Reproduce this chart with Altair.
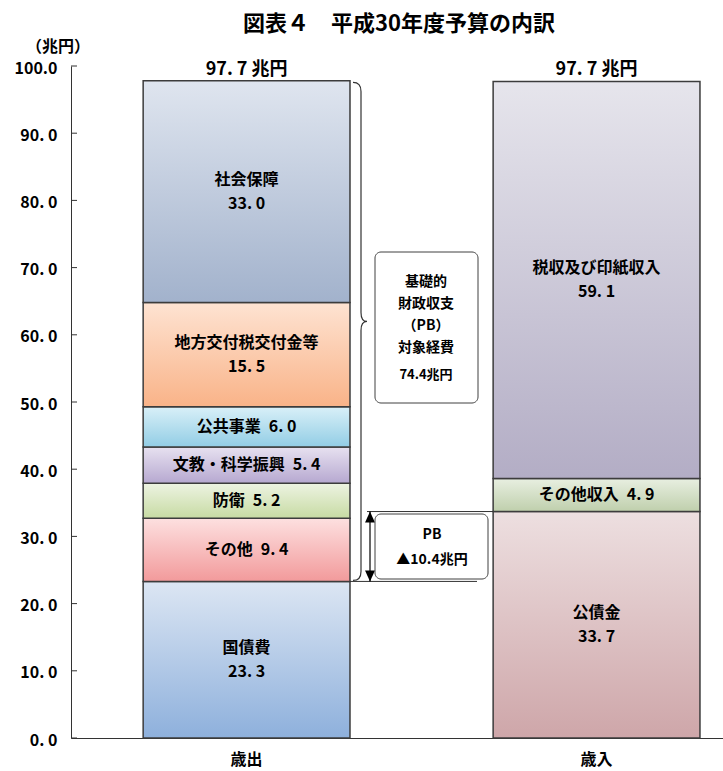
import altair as alt
import pandas as pd

# ---------------- data ----------------
categories = ["歳出", "歳入"]
exp_names = ["国債費", "その他", "防衛", "文教・科学振興", "公共事業", "地方交付税交付金等", "社会保障"]
exp_values = [23.3, 9.4, 5.2, 5.4, 6.0, 15.5, 33.0]
rev_names = ["公債金", "その他収入", "税収及び印紙収入"]
rev_values = [33.7, 4.9, 59.1]
totals = [97.7, 97.7]
y_ticks = [0, 10, 20, 30, 40, 50, 60, 70, 80, 90, 100]
pb_target = 74.4
pb_balance = -10.4

# ---------------- styles ----------------
FONT = "Noto Sans CJK JP"
colors = {
    "国債費": ("#dce6f3", "#8eb0dc"),
    "その他": ("#fde0e0", "#f29a9b"),
    "防衛": ("#edf3e2", "#c7dba3"),
    "文教・科学振興": ("#e7e1f0", "#b6a8d0"),
    "公共事業": ("#d9f0f8", "#92cde5"),
    "地方交付税交付金等": ("#fee3d2", "#f9b388"),
    "社会保障": ("#dfe5ef", "#a2b2cc"),
    "公債金": ("#eddfe0", "#cea6a9"),
    "その他収入": ("#e8efe1", "#bfcfac"),
    "税収及び印紙収入": ("#e6e5ec", "#b3adc5"),
}


def fmt(v):
    return f"{v:.1f}".replace(".", ". ")


rows = []
for cat, names, vals in [(categories[0], exp_names, exp_values), (categories[1], rev_names, rev_values)]:
    s = 0.0
    for n, v in zip(names, vals):
        two = v >= 10
        label = f"{n}\n{fmt(v)}" if two else f"{n}\u2002{fmt(v)}"
        rows.append(dict(category=cat, name=n, value=v, start=round(s, 2), end=round(s + v, 2),
                         mid=s + v / 2, label=label, two=two))
        s += v
df = pd.DataFrame(rows)

tot_df = pd.DataFrame({"category": categories, "total": totals,
                       "tlabel": [f"{fmt(t)} 兆円" for t in totals]})
tick_df = pd.DataFrame({"v": y_ticks})
one = pd.DataFrame({"a": [0]})

x_scale = alt.Scale(domain=categories, paddingInner=0.409, paddingOuter=0.136, align=0.758)
y_scale = alt.Scale(domain=[0, 100], nice=False, zero=True)

x_enc = alt.X("category:N", scale=x_scale, sort=categories,
              axis=alt.Axis(title=None, ticks=False, tickSize=0, labelAngle=0, labelPadding=13,
                            labelFontSize=16, labelFontWeight="bold", labelFont=FONT,
                            labelColor="black", domainColor="#333333", labelBaseline="top"))
y_axis = alt.Axis(values=y_ticks, title=None, ticks=False, tickSize=0, grid=False,
                  labelExpr="datum.value == 100 ? '100.0' : replace(format(datum.value, '.1f'), '.', '. ')",
                  labelPadding=14, labelFontSize=16, labelFontWeight="bold", labelFont=FONT,
                  labelColor="black", domainColor="#333333", labelOffset=2)

base = alt.Chart(df)
layers = []
for n in exp_names + rev_names:
    top, bot = colors[n]
    grad = {"gradient": "linear", "x1": 0, "y1": 0, "x2": 0, "y2": 1,
            "stops": [{"offset": 0, "color": top}, {"offset": 1, "color": bot}]}
    layers.append(
        base.transform_filter(alt.datum.name == n)
        .mark_bar(fill=grad, stroke="#3c3c3c", strokeWidth=1.5)
        .encode(x=x_enc, y=alt.Y("start:Q", scale=y_scale, axis=y_axis), y2="end:Q")
    )

seg_text2 = base.transform_filter(alt.datum.two).mark_text(
    font=FONT, fontSize=16, fontWeight="bold", lineBreak="\n", lineHeight=24,
    baseline="middle", dy=-12, color="black").encode(
    x=x_enc, y=alt.Y("mid:Q", scale=y_scale), text="label:N")
seg_text1 = base.transform_filter("!datum.two").mark_text(
    font=FONT, fontSize=16, fontWeight="bold", baseline="middle", color="black").encode(
    x=x_enc, y=alt.Y("mid:Q", scale=y_scale), text="label:N")

tot_text = alt.Chart(tot_df).mark_text(font=FONT, fontSize=18, fontWeight="bold", baseline="bottom",
                                       dy=-2, color="black").encode(
    x=x_enc, y=alt.Y("total:Q", scale=y_scale), text="tlabel:N")

ticks = alt.Chart(tick_df).mark_rule(color="#333333", strokeWidth=1).encode(
    y=alt.Y("v:Q", scale=y_scale), x=alt.value(0), x2=alt.value(6))

ann = alt.Chart(one)
title_txt = ann.mark_text(font=FONT, fontSize=22, fontWeight="bold", color="black", baseline="middle").encode(
    x=alt.value(328), y=alt.value(-42), text=alt.value("図表４　平成30年度予算の内訳"))
unit_txt = ann.mark_text(font=FONT, fontSize=16, fontWeight="bold", color="black", baseline="middle").encode(
    x=alt.value(-13), y=alt.value(-19), text=alt.value("（兆円）"))

debt_top = exp_values[0]
bond_top = rev_values[0]
brace_mid = (totals[0] + debt_top) / 2
brace_path = ("M -0.032,-0.996 Q 0,-0.996 0,-0.96 L 0,-0.076 Q 0,-0.04 0.024,-0.04 "
              "Q 0,-0.04 0,-0.004 L 0,0.96 Q 0,0.996 -0.032,0.996")
brace = ann.mark_point(shape=brace_path, size=250000, filled=False, stroke="#333333",
                       strokeWidth=1.2, opacity=1).encode(
    x=alt.value(290), y=alt.datum(brace_mid))

line_low = ann.mark_rule(color="#333333", strokeWidth=1).encode(
    y=alt.datum(debt_top), x=alt.value(279), x2=alt.value(406))
line_high = ann.mark_rule(color="#333333", strokeWidth=1).encode(
    y=alt.datum(bond_top), x=alt.value(296), x2=alt.value(422))
arrow_line = ann.mark_rule(color="black", strokeWidth=1.2).encode(
    x=alt.value(299), y=alt.datum(bond_top), y2=alt.datum(debt_top))
head_up = ann.mark_point(shape="M 0,0 L 0.45,1 L -0.45,1 Z", size=484, filled=True, color="black",
                         opacity=1).encode(x=alt.value(299), y=alt.datum(bond_top))
head_dn = ann.mark_point(shape="M 0,0 L 0.45,-1 L -0.45,-1 Z", size=484, filled=True, color="black",
                         opacity=1).encode(x=alt.value(299), y=alt.datum(debt_top))

box1 = ann.mark_rect(cornerRadius=6, fill="white", stroke="#404040", strokeWidth=1).encode(
    x=alt.value(304), x2=alt.value(407), y=alt.value(186), y2=alt.value(337))
box1_txt = ann.mark_text(font=FONT, fontSize=14, fontWeight="bold", color="black", baseline="middle",
                         lineBreak="\n", lineHeight=22).encode(
    x=alt.value(355), y=alt.value(216), text=alt.value("基礎的\n財政収支\n（PB）\n対象経費"))
box1_val = ann.mark_text(font=FONT, fontSize=13, fontWeight="bold", color="black", baseline="middle").encode(
    x=alt.value(355), y=alt.value(309), text=alt.value(f"{pb_target:.1f}兆円"))

box2 = ann.mark_rect(cornerRadius=6, fill="white", stroke="#404040", strokeWidth=1).encode(
    x=alt.value(304), x2=alt.value(417), y=alt.value(448), y2=alt.value(513))
box2_txt = ann.mark_text(font=FONT, fontSize=14, fontWeight="bold", color="black", baseline="middle",
                         lineBreak="\n", lineHeight=25).encode(
    x=alt.value(361), y=alt.value(469), text=alt.value(f"PB\n▲{abs(pb_balance):.1f}兆円"))

chart = alt.layer(
    *layers, seg_text2, seg_text1, tot_text, ticks, title_txt, unit_txt,
    line_low, line_high, brace, arrow_line, head_up, head_dn,
    box1, box1_txt, box1_val, box2, box2_txt,
).properties(
    width=652, height=672,
    background="white",
    autosize=alt.AutoSizeParams(type="none"),
    padding={"left": 71, "top": 66, "right": 0, "bottom": 33},
).configure_view(stroke=None)

chart.save("out.html", embed_options={"renderer": "svg", "actions": False})
